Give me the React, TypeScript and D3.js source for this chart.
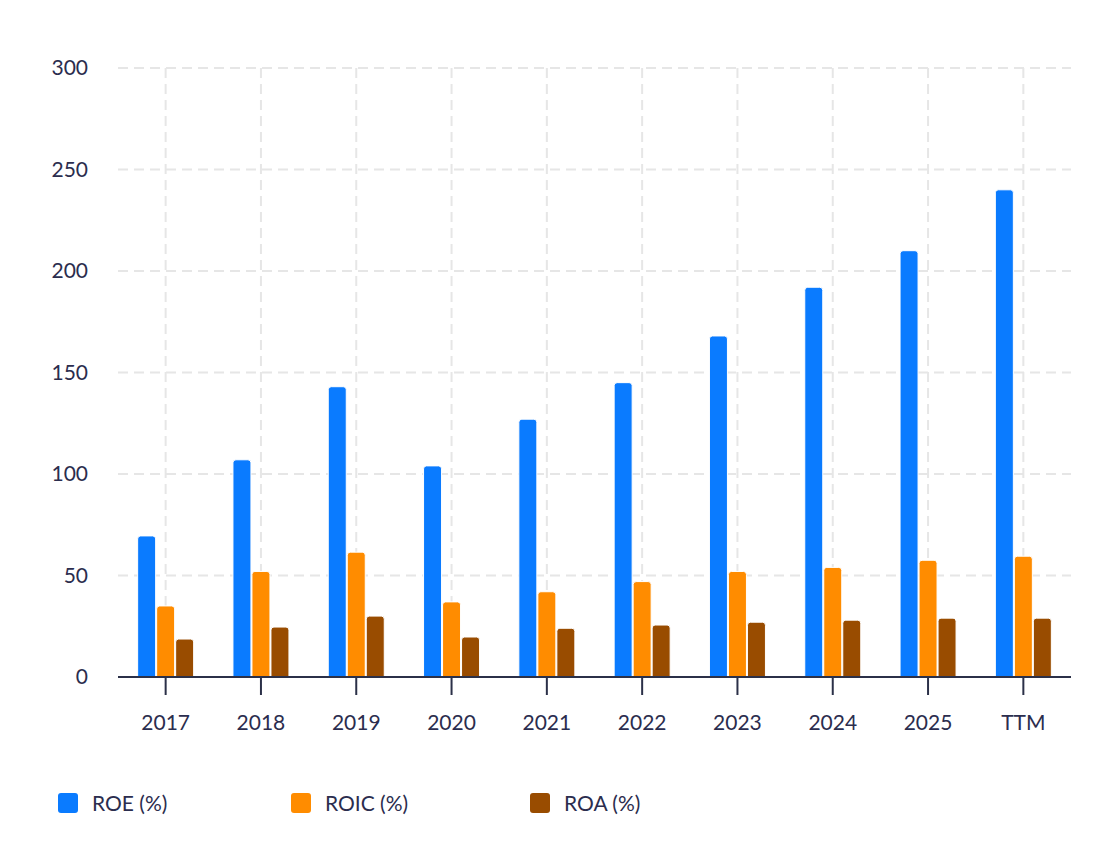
import {useRef, useEffect} from "react"
import * as d3 from "d3"

const categories = ["2017", "2018", "2019", "2020", "2021", "2022", "2023", "2024", "2025", "TTM"]
const roe = [69.5, 107, 143, 104, 127, 145, 168, 192, 210, 240]
const roic = [35, 52, 61.5, 37, 42, 47, 52, 54, 57.5, 59.5]
const roa = [18.7, 24.6, 30, 19.7, 24, 25.6, 27, 28, 29, 29]
const seriesNames = ["ROE (%)", "ROIC (%)", "ROA (%)"]
const colors = ["#0a7bff", "#ff8c00", "#994c00"]
const yTicks = [0, 50, 100, 150, 200, 250, 300]

export default function App() {
    const svgRef = useRef<SVGSVGElement>(null)

    useEffect(() => {
        if (!svgRef.current) return
        const width = 1093
        const height = 867
        const svg = d3.select(svgRef.current)
        svg.selectAll("*").remove()
        const font = "Lato, 'Open Sans', sans-serif"
        const textColor = "#2b2d4e"

        const x = d3.scaleBand().domain(categories).range([118, 1071])
        const y = d3.scaleLinear().domain([0, 300]).range([677, 68])

        const grid = svg.append("g")
        grid.selectAll("line.h").data(yTicks.slice(1)).join("line")
            .attr("x1", 118).attr("x2", 1071)
            .attr("y1", d => y(d)).attr("y2", d => y(d))
            .attr("stroke", "#e6e6e6").attr("stroke-width", 2).attr("stroke-dasharray", "10,6")
        grid.selectAll("line.v").data(categories).join("line")
            .attr("x1", d => x(d)! + x.bandwidth() / 2).attr("x2", d => x(d)! + x.bandwidth() / 2)
            .attr("y1", 68).attr("y2", 677)
            .attr("stroke", "#e6e6e6").attr("stroke-width", 2).attr("stroke-dasharray", "10,6")

        svg.append("g").selectAll("text").data(yTicks).join("text")
            .attr("x", 88).attr("y", d => y(d)).attr("dy", "0.35em")
            .attr("text-anchor", "end").attr("font-family", font).attr("font-size", 21)
            .attr("fill", textColor).text(d => d)

        const series = [roe, roic, roa]
        const barW = 18
        const step = 19
        const bars = svg.append("g")
        series.forEach((vals, si) => {
            bars.selectAll(`path.s${si}`).data(vals).join("path")
                .attr("fill", colors[si]).attr("stroke", "#fff").attr("stroke-width", 1)
                .attr("d", (v, i) => {
                    const cx = x(categories[i])! + x.bandwidth() / 2
                    const x0 = cx + (si - 1) * step - barW / 2
                    const y0 = y(v), y1 = y(0), r = 3
                    return `M${x0},${y1}V${y0 + r}Q${x0},${y0} ${x0 + r},${y0}H${x0 + barW - r}Q${x0 + barW},${y0} ${x0 + barW},${y0 + r}V${y1}Z`
                })
        })

        svg.append("line").attr("x1", 118).attr("x2", 1071).attr("y1", 677).attr("y2", 677)
            .attr("stroke", "#2b3048").attr("stroke-width", 2)
        const xg = svg.append("g")
        xg.selectAll("line").data(categories).join("line")
            .attr("x1", d => x(d)! + x.bandwidth() / 2).attr("x2", d => x(d)! + x.bandwidth() / 2)
            .attr("y1", 677).attr("y2", 695).attr("stroke", "#2b3048").attr("stroke-width", 2)
        xg.selectAll("text").data(categories).join("text")
            .attr("x", d => x(d)! + x.bandwidth() / 2).attr("y", 730)
            .attr("text-anchor", "middle").attr("font-family", font).attr("font-size", 21)
            .attr("fill", textColor).text(d => d)

        const legendX = [58, 291, 530]
        const lg = svg.append("g")
        seriesNames.forEach((name, i) => {
            lg.append("rect").attr("x", legendX[i]).attr("y", 793).attr("width", 20).attr("height", 20)
                .attr("rx", 3).attr("fill", colors[i])
            lg.append("text").attr("x", legendX[i] + 34).attr("y", 804).attr("dy", "0.35em")
                .attr("font-family", font).attr("font-size", 21).attr("fill", textColor).text(name)
        })
        svg.attr("width", width).attr("height", height)
    }, [])

    return <svg ref={svgRef} width={1093} height={867} style={{position: "absolute", left: 0, top: 0}} />
}
